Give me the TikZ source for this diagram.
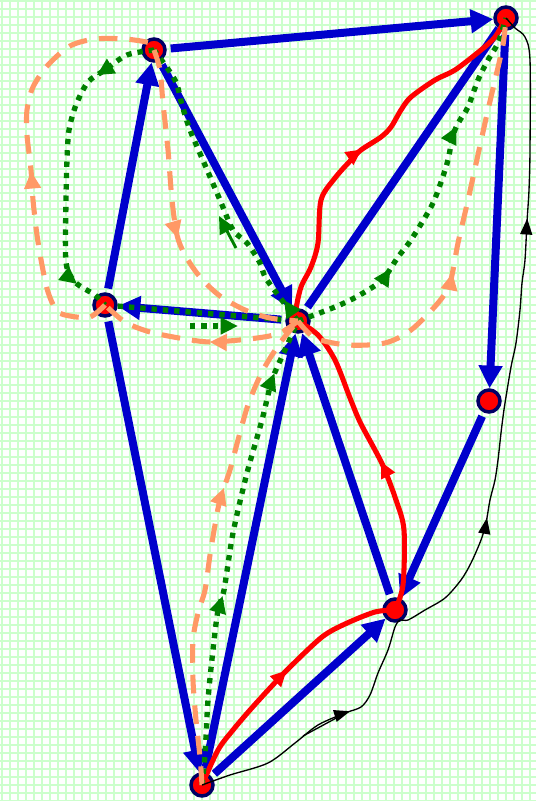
\documentclass[tikz,border=0pt]{standalone}
\usetikzlibrary{arrows.meta, decorations.markings}

\definecolor{edgeblue}{RGB}{0,0,204}
\definecolor{nodenavy}{RGB}{0,0,102}
\definecolor{pathgreen}{RGB}{0,128,0}
\definecolor{pathorange}{RGB}{255,153,102}
\definecolor{gridgreen}{RGB}{204,255,204}

\tikzset{
	vertex/.style={circle, fill=red, draw=nodenavy, line width=2.6pt, minimum size=16.5pt, inner sep=0pt},
	flow/.style={edgeblue, line width=6pt, shorten <=3pt, -{Triangle[length=17pt,width=17pt]}},
	midtip/.style={postaction={decorate, decoration={markings, mark=at position #1 with {\arrow{>}}}}},
	redpath/.style={red, line width=3.8pt, line cap=round, >={Triangle[length=12pt,width=11pt]}},
	greenpath/.style={pathgreen, line width=4pt, dash pattern=on 4pt off 4.5pt, >={Triangle[length=13pt,width=12pt]}},
	orangepath/.style={pathorange, line width=3.8pt, dash pattern=on 14pt off 9pt, >={Triangle[length=13pt,width=12pt]}},
	blackpath/.style={black, line width=1pt, >={Triangle[length=12pt,width=9pt]}},
}

\begin{document}
\begin{tikzpicture}[x=0.75pt, y=-0.75pt]

	% paper with a fine grid
	\fill[white] (0,0) rectangle (536,801);
	\useasboundingbox (0,0) rectangle (536,801);
	\foreach \x in {2,10,...,536} \draw[gridgreen, line width=1.6pt] (\x,0) -- (\x,801);
	\foreach \y in {1,9,...,801} \draw[gridgreen, line width=1.6pt] (0,\y) -- (536,\y);

	% vertices
	\node[vertex] (A) at (154,50) {};
	\node[vertex] (B) at (506,18) {};
	\node[vertex] (C) at (105,305) {};
	\node[vertex] (D) at (298,321) {};
	\node[vertex] (E) at (489,401) {};
	\node[vertex] (F) at (395,610) {};
	\node[vertex] (G) at (202,785) {};

	% directed edges
	\draw[flow] (A) -- (B);
	\draw[flow] (A) -- (D);
	\draw[flow] (C) -- (A);
	\draw[flow] (D) -- (C);
	\draw[flow, -] (D) -- (B);
	\draw[flow] (B) -- (E);
	\draw[flow] (E) -- (F);
	\draw[flow] (F) -- (D);
	\draw[flow] (G) -- (D);
	\draw[flow] (C) -- (G);
	\draw[flow] (G) -- (F);

	% red route G -> F -> D -> B
	\draw[redpath, midtip=0.53] plot[smooth] coordinates {(G) (218,750) (233,730) (250,710) (270,688) (290,667) (322,637) (345,624) (375,612) (F)};
	\draw[redpath, midtip=0.48] plot[smooth] coordinates {(F) (403,585) (404,530) (396,500) (384,468) (375,450) (360,422) (350,398) (335,360) (318,335) (D)};
	\draw[redpath, midtip=0.49] plot[smooth] coordinates {(D) (296,310) (301,287) (311,267) (318,243) (321,200) (335,178) (351,160) (361,150) (381,137) (391,127) (401,110) (411,97) (435,80) (455,70) (481,50) (495,37) (B)};

	% green dotted routes
	\draw[greenpath, midtip=0.2, midtip=0.89] plot[smooth] coordinates {(A) (127,55) (105,70) (88,82) (76,105) (69,130) (67,160) (66,200) (66,262) (75,282) (95,295) (C)};
	\draw[greenpath] (C) -- (D);
	\coordinate (gs) at (190,326);
	\coordinate (ge) at (238,326);
	\draw[greenpath, ->] (gs) -- (ge);
	\draw[greenpath] plot[smooth] coordinates {(D) (267,280) (260,263) (247,243) (233,230) (220,200) (205,165) (190,130) (182,105) (175,80) (A)};
	\coordinate (gd) at (284,300);
	\draw[greenpath, ->] (D) -- (gd);
	\coordinate (gt) at (236,248);
	\coordinate (gh) at (219,216);
	\draw[pathgreen, line width=2.2pt, -{Triangle[length=13pt,width=12pt]}] (gt) -- (gh);
	\draw[greenpath, midtip=0.28, midtip=0.69] plot[smooth] coordinates {(D) (335,307) (358,296) (382,280) (398,257) (411,240) (431,207) (440,185) (448,160) (453,135) (460,120) (468,107) (478,80) (488,60) (498,43) (B)};
	\draw[greenpath, midtip=0.4, midtip=0.88] plot[smooth] coordinates {(G) (205,755) (208,700) (213,650) (218,610) (224,590) (233,533) (247,473) (262,420) (272,380) (285,350) (D)};

	% orange dashed routes
	\draw[orangepath, midtip=0.46] plot[smooth] coordinates {(C) (90,317) (70,316) (57,311) (48,292) (42,265) (37,235) (33,200) (31,170) (27,135) (27,110) (33,87) (48,65) (70,46) (95,39) (125,39) (150,43) (A)};
	\draw[orangepath, midtip=0.55] plot[smooth] coordinates {(A) (160,70) (163,103) (168,150) (172,200) (177,235) (185,255) (200,277) (220,296) (245,310) (270,318) (D)};
	\draw[orangepath, midtip=0.45] plot[smooth] coordinates {(D) (280,333) (257,338) (213,342) (185,339) (150,332) (125,322) (C)};
	\draw[orangepath, midtip=0.43] plot[smooth] coordinates {(D) (315,338) (348,345) (385,343) (411,330) (438,303) (450,283) (458,243) (468,200) (485,123) (495,80) (503,45) (B)};
	\draw[orangepath, midtip=0.62] plot[smooth] coordinates {(G) (200,757) (196,720) (193,680) (193,640) (198,613) (205,590) (210,555) (215,525) (220,500) (230,470) (238,440) (248,405) (262,372) (280,343) (D)};

	% thin black trail along the right side
	\draw[blackpath, midtip=0.18, midtip=0.45, midtip=0.775] plot[smooth] coordinates {(G) (230,775) (268,763) (295,743) (318,725) (345,713) (361,707) (370,695) (378,673) (388,650) (395,627) (400,620) (408,620) (425,610) (445,598) (461,580) (471,563) (481,540) (486,523) (490,500) (495,480) (498,460) (501,433) (503,417) (505,403) (511,367) (516,343) (520,310) (522,283) (525,260) (527,222) (529,190) (530,150) (530,60) (525,37) (515,28) (B)};
	\coordinate (bs) at (303,736);
	\coordinate (be) at (340,716);
	\draw[blackpath] (bs) -- (be);

\end{tikzpicture}
\end{document}
